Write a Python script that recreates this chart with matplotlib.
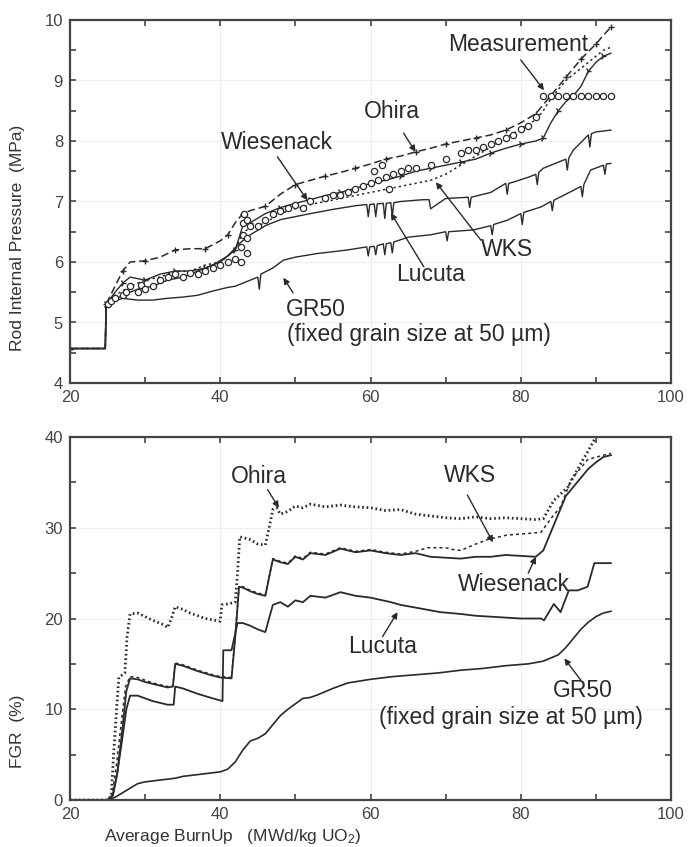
import numpy as np
import matplotlib
matplotlib.use('Agg')
import matplotlib.pyplot as plt
from matplotlib.ticker import MultipleLocator

plt.rcParams['font.family'] = ['Liberation Sans', 'DejaVu Sans']
plt.rcParams['mathtext.default'] = 'regular'

# ---- top panel: rod internal pressure (MPa) ----
ohira_x = [20, 24.7, 24.8, 26, 27, 28, 30, 32, 34, 36, 38, 40, 41, 42, 43, 44, 46, 48, 50,
           52, 54, 56, 58, 60, 62, 64, 66, 68, 70, 72, 74, 76, 78, 80, 82, 83, 84, 85, 86,
           87, 88, 89, 90, 91, 92]
ohira_p = [4.57, 4.57, 5.3, 5.6, 5.85, 6.0, 6.02, 6.08, 6.2, 6.22, 6.22, 6.35, 6.45, 6.65,
           6.8, 6.85, 6.92, 7.12, 7.28, 7.35, 7.42, 7.48, 7.55, 7.62, 7.7, 7.75, 7.82, 7.88,
           7.95, 8.0, 8.05, 8.1, 8.18, 8.3, 8.45, 8.6, 8.75, 8.9, 9.05, 9.2, 9.35, 9.48, 9.6,
           9.75, 9.88]

wks_x = [20, 24.7, 24.8, 26, 28, 30, 32, 34, 36, 38, 40, 42, 43, 44, 46, 48, 50, 52, 54, 56,
         58, 60, 62, 64, 66, 68, 70, 72, 74, 76, 78, 80, 82, 83, 84, 85, 86, 87, 88, 89, 90,
         91, 92]
wks_p = [4.57, 4.57, 5.3, 5.45, 5.6, 5.7, 5.75, 5.85, 5.85, 5.95, 6.0, 6.2, 6.5, 6.55, 6.65,
         6.8, 6.88, 6.95, 7.0, 7.05, 7.1, 7.15, 7.2, 7.25, 7.3, 7.35, 7.45, 7.6, 7.75, 7.9,
         8.05, 8.2, 8.35, 8.5, 8.7, 8.85, 9.0, 9.1, 9.2, 9.3, 9.4, 9.5, 9.55]

wies_x = [20, 24.7, 24.8, 26, 27, 28, 30, 32, 34, 36, 38, 40, 42, 43, 44, 46, 48, 50, 52, 54,
          56, 58, 60, 62, 64, 66, 68, 70, 72, 74, 76, 78, 80, 82, 83, 84, 85, 86, 87, 88, 89,
          90, 91, 92]
wies_p = [4.57, 4.57, 5.3, 5.5, 5.65, 5.75, 5.7, 5.8, 5.85, 5.85, 5.9, 6.0, 6.2, 6.6, 6.65,
          6.8, 6.9, 6.97, 7.03, 7.1, 7.15, 7.22, 7.3, 7.35, 7.42, 7.5, 7.55, 7.6, 7.65, 7.7,
          7.8, 7.88, 7.95, 8.0, 8.05, 8.3, 8.5, 8.65, 8.75, 8.9, 9.15, 9.3, 9.4, 9.45]

luc_x = [20, 24.7, 24.8, 27, 29, 31, 33, 35, 37, 39, 41, 42.5, 44, 46, 48, 50, 52, 55, 58,
         59.5, 59.7, 59.9, 60.5, 60.7, 60.9, 61.7, 61.9, 62.1, 62.7, 62.9, 63.1, 64, 67,
         67.8, 68, 70, 73, 73.2, 73.4, 76, 78, 78.2, 78.4, 79, 81, 82, 82.2, 82.4, 83, 85,
         86, 86.2, 86.4, 87, 89, 89.2, 89.4, 90, 92]
luc_p = [4.57, 4.57, 5.3, 5.45, 5.55, 5.6, 5.7, 5.75, 5.85, 5.95, 6.1, 6.3, 6.45, 6.6, 6.7,
         6.75, 6.8, 6.87, 6.93, 6.95, 6.75, 6.95, 6.96, 6.75, 6.96, 6.97, 6.72, 6.97, 6.98,
         6.75, 6.98, 7.0, 7.03, 7.03, 6.88, 7.05, 7.07, 6.9, 7.07, 7.15, 7.3, 7.12, 7.3,
         7.32, 7.4, 7.45, 7.28, 7.48, 7.55, 7.65, 7.7, 7.52, 7.72, 7.85, 8.1, 7.9, 8.12,
         8.15, 8.18]

gr_x = [20, 24.7, 24.8, 27, 29, 31, 33, 35, 37, 39, 41, 42, 44, 45, 45.2, 45.4, 47, 48.4,
        50, 52.9, 55, 57, 59.5, 59.7, 59.9, 60.5, 60.7, 60.9, 61.7, 61.9, 62.1, 62.7, 62.9,
        63.1, 65, 68, 70, 70.2, 70.4, 73.7, 76, 76.2, 76.4, 78.2, 80, 80.2, 80.4, 82.7, 84,
        84.2, 84.4, 87.1, 88, 88.2, 88.4, 89.3, 91, 91.2, 91.4, 92]
gr_p = [4.57, 4.57, 5.3, 5.4, 5.37, 5.37, 5.4, 5.42, 5.45, 5.52, 5.58, 5.6, 5.7, 5.75, 5.55,
        5.8, 5.9, 6.03, 6.08, 6.14, 6.17, 6.2, 6.25, 6.1, 6.25, 6.26, 6.12, 6.27, 6.3, 6.12,
        6.3, 6.32, 6.15, 6.33, 6.41, 6.45, 6.5, 6.35, 6.5, 6.53, 6.6, 6.45, 6.62, 6.69, 6.8,
        6.62, 6.82, 6.91, 7.0, 6.85, 7.02, 7.19, 7.25, 7.08, 7.28, 7.52, 7.6, 7.45, 7.62,
        7.63]

meas_x = [25, 25.5, 26, 27, 27.5, 28, 29, 29.5, 30, 31, 32, 33, 34, 35, 36, 37, 38, 39, 40,
          41, 42, 42.8, 42.8, 43, 43, 43.2, 43.5, 43.5, 43.5, 44, 45, 46, 47, 48, 49, 50,
          51, 52, 54, 55, 56, 57, 58, 59, 60, 60.5, 61, 61.5, 62, 62.5, 63, 64, 65, 66, 68,
          70, 72, 73, 74, 75, 76, 77, 78, 79, 80, 81, 82, 83, 84, 85, 86, 87, 88, 89, 90, 91,
          92]
meas_p = [5.3, 5.35, 5.4, 5.45, 5.5, 5.6, 5.5, 5.62, 5.55, 5.6, 5.7, 5.75, 5.8, 5.75, 5.82,
          5.8, 5.85, 5.9, 5.95, 6.0, 6.05, 6.0, 6.25, 6.45, 6.65, 6.8, 6.7, 6.4, 6.15, 6.6,
          6.6, 6.7, 6.8, 6.85, 6.9, 6.95, 6.9, 7.0, 7.05, 7.1, 7.1, 7.15, 7.2, 7.25, 7.3,
          7.5, 7.35, 7.6, 7.4, 7.2, 7.45, 7.5, 7.55, 7.55, 7.6, 7.7, 7.8, 7.85, 7.85, 7.9,
          7.95, 8.0, 8.05, 8.1, 8.2, 8.25, 8.4, 8.75, 8.75, 8.75, 8.75, 8.75, 8.75, 8.75,
          8.75, 8.75, 8.75]

# ---- bottom panel: fission gas release (%) ----
fgr_ohira_x = [20, 25, 25.5, 25.8, 26.2, 26.5, 27.3, 27.6, 28.0, 29, 30, 31, 32.5, 33, 33.5,
               34, 35, 36, 38, 40, 40.2, 41, 42, 42.3, 42.6, 44, 45, 46, 46.5, 47, 47.5, 48,
               49, 50, 51, 52, 54, 56, 58, 60, 62, 64, 66, 68, 70, 72, 74, 76, 78, 80, 82,
               83, 84.4, 86.3, 88, 89, 90]
fgr_ohira = [0, 0, 0.5, 5, 10, 13.5, 14, 18, 20.5, 20.6, 20.2, 19.8, 19.3, 19, 20, 21.3, 21,
             20.6, 20, 19.7, 21.5, 21.6, 21.8, 25, 29, 28.7, 28.2, 28.1, 30, 32, 32.2, 31.5,
             31.8, 32.4, 32.2, 32.6, 32.3, 32.5, 32.3, 32.2, 31.9, 32.0, 31.5, 31.3, 31.1,
             31.0, 31.2, 31.0, 31.1, 31.0, 30.9, 31, 33, 34.5, 37.1, 38.5, 40]

fgr_wies_x = [20, 25, 25.7, 26.3, 27, 27.5, 28, 29, 30, 31, 33, 33.7, 34, 35, 37, 39, 40,
              41.5, 42, 42.5, 43, 44, 45, 46, 47, 48, 49, 50, 51, 52, 54, 56, 58, 60, 62,
              64, 66, 68, 70, 72, 74, 76, 78, 80, 82, 83, 84, 85, 86, 87, 88, 89, 90, 91, 92]
fgr_wies = [0, 0, 0.5, 3, 8, 12, 13.4, 13.3, 13, 12.8, 12.4, 12.5, 15, 14.8, 14.2, 13.7,
            13.5, 13.4, 18, 23.5, 23.4, 23, 22.7, 22.5, 26.5, 26.2, 26, 26.8, 26.5, 27.2, 27,
            27.7, 27.3, 27.5, 27.2, 27.0, 27.2, 26.8, 26.7, 26.6, 26.8, 26.8, 27, 26.9, 26.8,
            27.5, 29.5, 31.5, 33.5, 34.5, 35.5, 36.5, 37.2, 37.8, 38]

fgr_wks_x = [20, 25, 25.6, 26.2, 26.9, 27.4, 28, 29, 30, 31, 33, 33.7, 34, 35, 37, 39, 40,
             41.5, 42, 42.5, 43, 44, 45, 46, 47, 48, 49, 50, 51, 52, 54, 56, 58, 60, 62, 64,
             66, 67.6, 70, 71, 72, 74, 75.6, 78.2, 80, 82.7, 84, 85.3, 86.7, 88.9, 91, 92]
fgr_wks = [0, 0, 0.5, 4, 9, 12.5, 13.6, 13.5, 13.2, 12.9, 12.5, 12.6, 15.1, 14.9, 14.3,
           13.8, 13.6, 13.5, 18.2, 23.6, 23.5, 23.1, 22.8, 22.6, 26.6, 26.3, 26.1, 26.9, 26.6,
           27.3, 27.1, 27.8, 27.4, 27.6, 27.3, 27.1, 27.4, 27.8, 27.8, 27.6, 27.5, 28.2,
           28.7, 29.2, 29.3, 29.5, 31, 32.3, 35.3, 37.5, 38.0, 38.2]

fgr_luc_x = [20, 25, 25.7, 26.3, 27, 27.5, 28, 29, 30, 31, 33, 33.8, 34, 35, 37, 39, 40.3,
             40.4, 41.5, 42.3, 43, 44, 45, 46, 47, 48, 49, 50, 51, 52, 54, 56, 58, 60, 62.7,
             64, 66, 69.3, 72, 74, 76, 78, 80, 82.7, 83.1, 84.4, 85.3, 86.4, 87.6, 88.9, 89.8,
             92]
fgr_luc = [0, 0, 0.5, 3, 7, 10, 11.5, 11.5, 11.2, 10.9, 10.5, 10.5, 12.5, 12.3, 11.7, 11.2,
           10.9, 16.5, 16.5, 19.5, 19.5, 19.2, 18.8, 18.5, 21.5, 21.8, 21.3, 22, 21.8, 22.5,
           22.3, 22.9, 22.5, 22.3, 21.8, 21.5, 21.2, 20.7, 20.5, 20.3, 20.2, 20.1, 20.0,
           20.0, 19.8, 21.6, 20.7, 23.1, 23.1, 23.5, 26.1, 26.1]

fgr_gr_x = [20, 25, 26, 27, 28, 29, 30, 32, 34, 35, 37, 39, 40, 41, 42, 43, 44, 45, 46, 47,
            48, 49, 50, 51, 52, 53, 55, 57, 60, 63, 66, 69, 72, 75, 78, 81, 83, 85, 86, 87,
            88, 89, 90, 91, 92]
fgr_gr = [0, 0, 0.3, 0.8, 1.3, 1.8, 2.0, 2.2, 2.4, 2.6, 2.8, 3.0, 3.1, 3.4, 4.2, 5.5, 6.5,
          6.8, 7.3, 8.3, 9.3, 10, 10.6, 11.2, 11.3, 11.6, 12.3, 12.9, 13.3, 13.6, 13.8, 14,
          14.3, 14.5, 14.8, 15.0, 15.3, 16, 16.8, 17.8, 18.8, 19.6, 20.2, 20.6, 20.8]

ink = '#2a2a2a'
W, H = 691, 847
fig = plt.figure(figsize=(W / 100, H / 100), dpi=100)
ax1 = fig.add_axes([70 / W, 1 - 383 / H, 601 / W, 363 / H])
ax2 = fig.add_axes([70 / W, 1 - 800 / H, 601 / W, 363 / H])

# top panel
ax1.plot(meas_x, meas_p, 'o', ms=4.5, mfc='white', mec=ink, mew=0.9, zorder=3)
ax1.plot(ohira_x, ohira_p, color=ink, lw=1.1, ls=(0, (5, 2.5)), marker='+', ms=4, markevery=2)
ax1.plot(wks_x, wks_p, color=ink, lw=1.1, ls=(0, (1.5, 2)))
ax1.plot(wies_x, wies_p, color=ink, lw=1.0, marker='4', ms=5, markevery=2)
ax1.plot(luc_x, luc_p, color=ink, lw=1.0)
ax1.plot(gr_x, gr_p, color=ink, lw=1.0)
ax1.set_ylim(4, 10)
ax1.set_ylabel('Rod Internal Pressure  (MPa)', fontsize=12.5, color='#333')
ax1.yaxis.set_label_coords(-0.075, 0.40)
ax1.yaxis.set_major_locator(MultipleLocator(1))
ax1.yaxis.set_minor_locator(MultipleLocator(0.5))

# bottom panel
ax2.plot(fgr_ohira_x, fgr_ohira, color=ink, lw=2.0, ls=(0, (0.6, 1.0)))
ax2.plot(fgr_wks_x, fgr_wks, color=ink, lw=1.1, ls=(0, (2, 2)))
ax2.plot(fgr_wies_x, fgr_wies, color=ink, lw=1.3)
ax2.plot(fgr_luc_x, fgr_luc, color=ink, lw=1.3)
ax2.plot(fgr_gr_x, fgr_gr, color=ink, lw=1.2)
ax2.set_ylim(0, 40)
ax2.set_ylabel('FGR  (%)', fontsize=12.5, color='#333')
ax2.yaxis.set_label_coords(-0.075, 0.19)
ax2.set_xlabel('Average BurnUp   (MWd/kg UO$_2$)', fontsize=12.5, color='#333')
ax2.xaxis.set_label_coords(0.27, -0.075)
ax2.yaxis.set_major_locator(MultipleLocator(10))
ax2.yaxis.set_minor_locator(MultipleLocator(5))

for ax in (ax1, ax2):
    ax.set_xlim(20, 100)
    ax.xaxis.set_major_locator(MultipleLocator(20))
    ax.xaxis.set_minor_locator(MultipleLocator(10))
    ax.tick_params(which='both', direction='in', top=True, right=True, length=4,
                   width=1.2, color='#444', labelsize=12, labelcolor='#444', pad=5)
    ax.grid(True, which='major', color='#eeeeee', lw=0.8)
    ax.set_axisbelow(True)
    for s in ax.spines.values():
        s.set_color('#444')
        s.set_linewidth(1.6)

arrow = dict(arrowstyle='-|>', color=ink, lw=1.0, mutation_scale=9, shrinkA=0, shrinkB=0)
lab = dict(fontsize=16.5, color=ink)

ax1.annotate('', xy=(83.1, 8.84), xytext=(80, 9.34), arrowprops=arrow)
ax1.text(79.7, 9.6, 'Measurement', ha='center', va='center', **lab)
ax1.annotate('', xy=(66, 7.82), xytext=(64.4, 8.13), arrowprops=arrow)
ax1.text(62.9, 8.48, 'Ohira', ha='center', va='center', **lab)
ax1.annotate('', xy=(51.6, 7.02), xytext=(47.6, 7.74), arrowprops=arrow)
ax1.text(47.6, 7.98, 'Wiesenack', ha='center', va='center', **lab)
ax1.annotate('', xy=(68.7, 7.32), xytext=(74.7, 6.36), arrowprops=arrow)
ax1.text(78.1, 6.2, 'WKS', ha='center', va='center', **lab)
ax1.annotate('', xy=(62.7, 6.81), xytext=(67.1, 5.92), arrowprops=arrow)
ax1.text(68, 5.79, 'Lucuta', ha='center', va='center', **lab)
ax1.annotate('', xy=(48.4, 5.74), xytext=(49.7, 5.49), arrowprops=arrow)
ax1.text(48.7, 5.22, 'GR50', ha='left', va='center', **lab)
ax1.text(48.9, 4.8, '(fixed grain size at 50 µm)', ha='left', va='center', **lab)

ax2.annotate('', xy=(47.8, 32.2), xytext=(46.3, 34.2), arrowprops=arrow)
ax2.text(45.1, 35.7, 'Ohira', ha='center', va='center', **lab)
ax2.annotate('', xy=(76.3, 28.4), xytext=(72.9, 33.6), arrowprops=arrow)
ax2.text(73.3, 35.8, 'WKS', ha='center', va='center', **lab)
ax2.annotate('', xy=(82, 26.8), xytext=(81, 25.0), arrowprops=arrow)
ax2.text(79.1, 23.8, 'Wiesenack', ha='center', va='center', **lab)
ax2.annotate('', xy=(63.6, 20.7), xytext=(61.6, 18), arrowprops=arrow)
ax2.text(61.6, 16.9, 'Lucuta', ha='center', va='center', **lab)
ax2.annotate('', xy=(85.8, 15.6), xytext=(88, 13.2), arrowprops=arrow)
ax2.text(88.3, 12.1, 'GR50', ha='center', va='center', **lab)
ax2.text(78.7, 9.1, '(fixed grain size at 50 µm)', ha='center', va='center', **lab)

fig.savefig('out.png', dpi=100)
